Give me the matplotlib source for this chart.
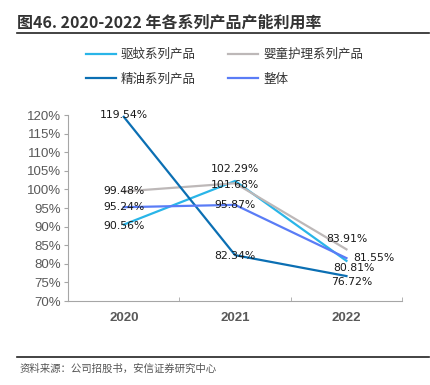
import matplotlib.pyplot as plt
import matplotlib.lines as mlines

plt.rcParams['font.family'] = ['Noto Sans CJK SC', 'DejaVu Sans']

years = ["2020", "2021", "2022"]
quwen = [90.56, 102.29, 80.81]
yingtong = [99.48, 101.68, 83.91]
jingyou = [119.54, 82.34, 76.72]
zhengti = [95.24, 95.87, 81.55]

series = [
    ("驱蚊系列产品", quwen, "#29B5E8"),
    ("婴童护理系列产品", yingtong, "#BDB8B8"),
    ("精油系列产品", jingyou, "#0B6FB3"),
    ("整体", zhengti, "#5A7CF6"),
]

# label offsets in pixels (dx, dy) per series/point
offsets = {
    "驱蚊系列产品": [(0, -1), (0, 12), (7, -7)],
    "婴童护理系列产品": [(0, 0), (0, -2), (0, 10)],
    "精油系列产品": [(0, 2), (0, -1), (5, -6)],
    "整体": [(0, 0), (0, 0), (27, 0)],
}

fig = plt.figure(figsize=(4.31, 3.85), dpi=100)
ax = fig.add_axes((0.158, 0.218, 0.775, 0.483))

x = range(len(years))
handles = []
for name, vals, color in series:
    (ln,) = ax.plot(x, vals, color=color, lw=1.6, label=name)
    handles.append(ln)
    for i, v in enumerate(vals):
        dx, dy = offsets[name][i]
        ax.annotate(f"{v:.2f}%", (i, v), xytext=(dx, dy), textcoords="offset pixels",
                    ha="center", va="center", fontsize=7.8, color="#1a1a1a",
                    family=["DejaVu Sans"])

ax.set_xlim(-0.5, 2.5)
ax.set_ylim(70, 120)
ax.set_yticks(range(70, 121, 5))
ax.set_yticklabels([f"{t}%" for t in range(70, 121, 5)], family=["Liberation Sans"],
                   fontsize=9.5, color="#595959")
ax.set_xticks(list(x))
ax.set_xticklabels(years, family=["Liberation Sans"], fontsize=9.5, color="#595959",
                   fontweight="bold")
ax.set_xticks([-0.5, 0.5, 1.5, 2.5], minor=True)
ax.tick_params(axis="x", which="major", length=0, pad=8)
ax.tick_params(axis="x", which="minor", length=3, color="#A6A6A6", direction="in")
ax.tick_params(axis="y", length=3, color="#A6A6A6", direction="out", pad=2)
for s in ["top", "right"]:
    ax.spines[s].set_visible(False)
for s in ["left", "bottom"]:
    ax.spines[s].set_color("#A6A6A6")

# column-first fill: col1 = 驱蚊, 精油; col2 = 婴童, 整体
order = [handles[0], handles[2], handles[1], handles[3]]
leg = fig.legend(order, [h.get_label() for h in order], ncol=2, loc="center",
                 bbox_to_anchor=(0.521, 0.826), frameon=False, fontsize=9,
                 handlelength=2.4, columnspacing=2.6, handletextpad=0.4,
                 labelspacing=0.9)
for t in leg.get_texts():
    t.set_color("#333333")

fig.text(0.04, 0.94, "图46. 2020-2022 年各系列产品产能利用率", fontsize=11.5,
         fontweight="bold", color="#333333", va="center",
         family=["Noto Sans CJK SC", "DejaVu Sans"])
fig.add_artist(mlines.Line2D([0.04, 0.995], [0.914, 0.914], color="#222222", lw=1.2))
fig.add_artist(mlines.Line2D([0.04, 0.995], [0.073, 0.073], color="#222222", lw=1.2))
fig.text(0.045, 0.042, "资料来源：公司招股书，安信证券研究中心", fontsize=7.5,
         style="italic", color="#555555", va="center")

fig.savefig("out.png", dpi=100)
